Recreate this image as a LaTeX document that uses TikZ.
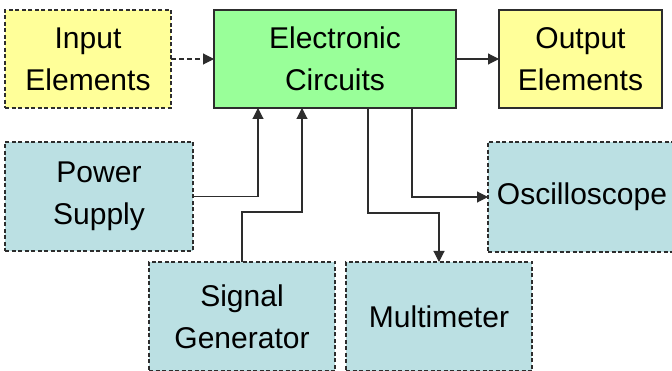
\documentclass[tikz,border=0pt]{standalone}
\usepackage{fontspec}
\setmainfont{Liberation Sans}
\usetikzlibrary{arrows.meta, positioning}

\definecolor{partyellow}{RGB}{255,255,153}
\definecolor{circgreen}{RGB}{153,255,153}
\definecolor{instblue}{RGB}{187,224,227}
\definecolor{edgegray}{RGB}{45,45,45}

\begin{document}
\begin{tikzpicture}[x=1pt, y=1pt, >={Triangle[length=11pt, width=11pt]},
    box/.style={draw=edgegray, line width=1.1pt, inner sep=0pt, outer sep=0pt,
                align=center, minimum height=98pt, font=\fontsize{30}{42}\selectfont},
    dbox/.style={box, dash pattern=on 4pt off 2.5pt},
    arr/.style={->, line width=1.1pt, edgegray}
  ]
  \useasboundingbox[fill=white] (0,0) rectangle (672,-371);

  \node[dbox, fill=partyellow, minimum width=166pt, anchor=north west] (input) at (5,-10) {Input\\Elements};
  \node[box, fill=circgreen, minimum width=242pt, right=43pt of input] (elec) {Electronic\\Circuits};
  \node[box, fill=partyellow, minimum width=163pt, right=43pt of elec] (output) {Output\\Elements};

  \node[dbox, fill=instblue, minimum width=188pt, minimum height=109pt,
        below right=34pt and 0pt of input.south west] (power) {Power\\Supply};
  \node[dbox, fill=instblue, minimum width=186pt, minimum height=109pt,
        below right=11pt and -44pt of power.south east] (siggen) {Signal\\Generator};
  \node[dbox, fill=instblue, minimum width=186pt, minimum height=109pt,
        right=11pt of siggen] (multi) {Multimeter};
  \node[dbox, fill=instblue, minimum width=188pt, minimum height=110pt,
        below right=34pt and -11pt of output.south west] (osc) {Oscilloscope};

  \draw[arr, dash pattern=on 5pt off 3pt] (input) -- (elec);
  \draw[arr] (elec) -- (output);
  \draw[arr] (power.east) -| ([xshift=44pt]elec.south west);
  \draw[arr] (siggen.north) -- ++(0,50) -| ([xshift=88pt]elec.south west);
  \draw[arr] ([xshift=154pt]elec.south west) -- ++(0,-105) -| (multi.north);
  \draw[arr] ([xshift=198pt]elec.south west) |- (osc.west);

\end{tikzpicture}
\end{document}
